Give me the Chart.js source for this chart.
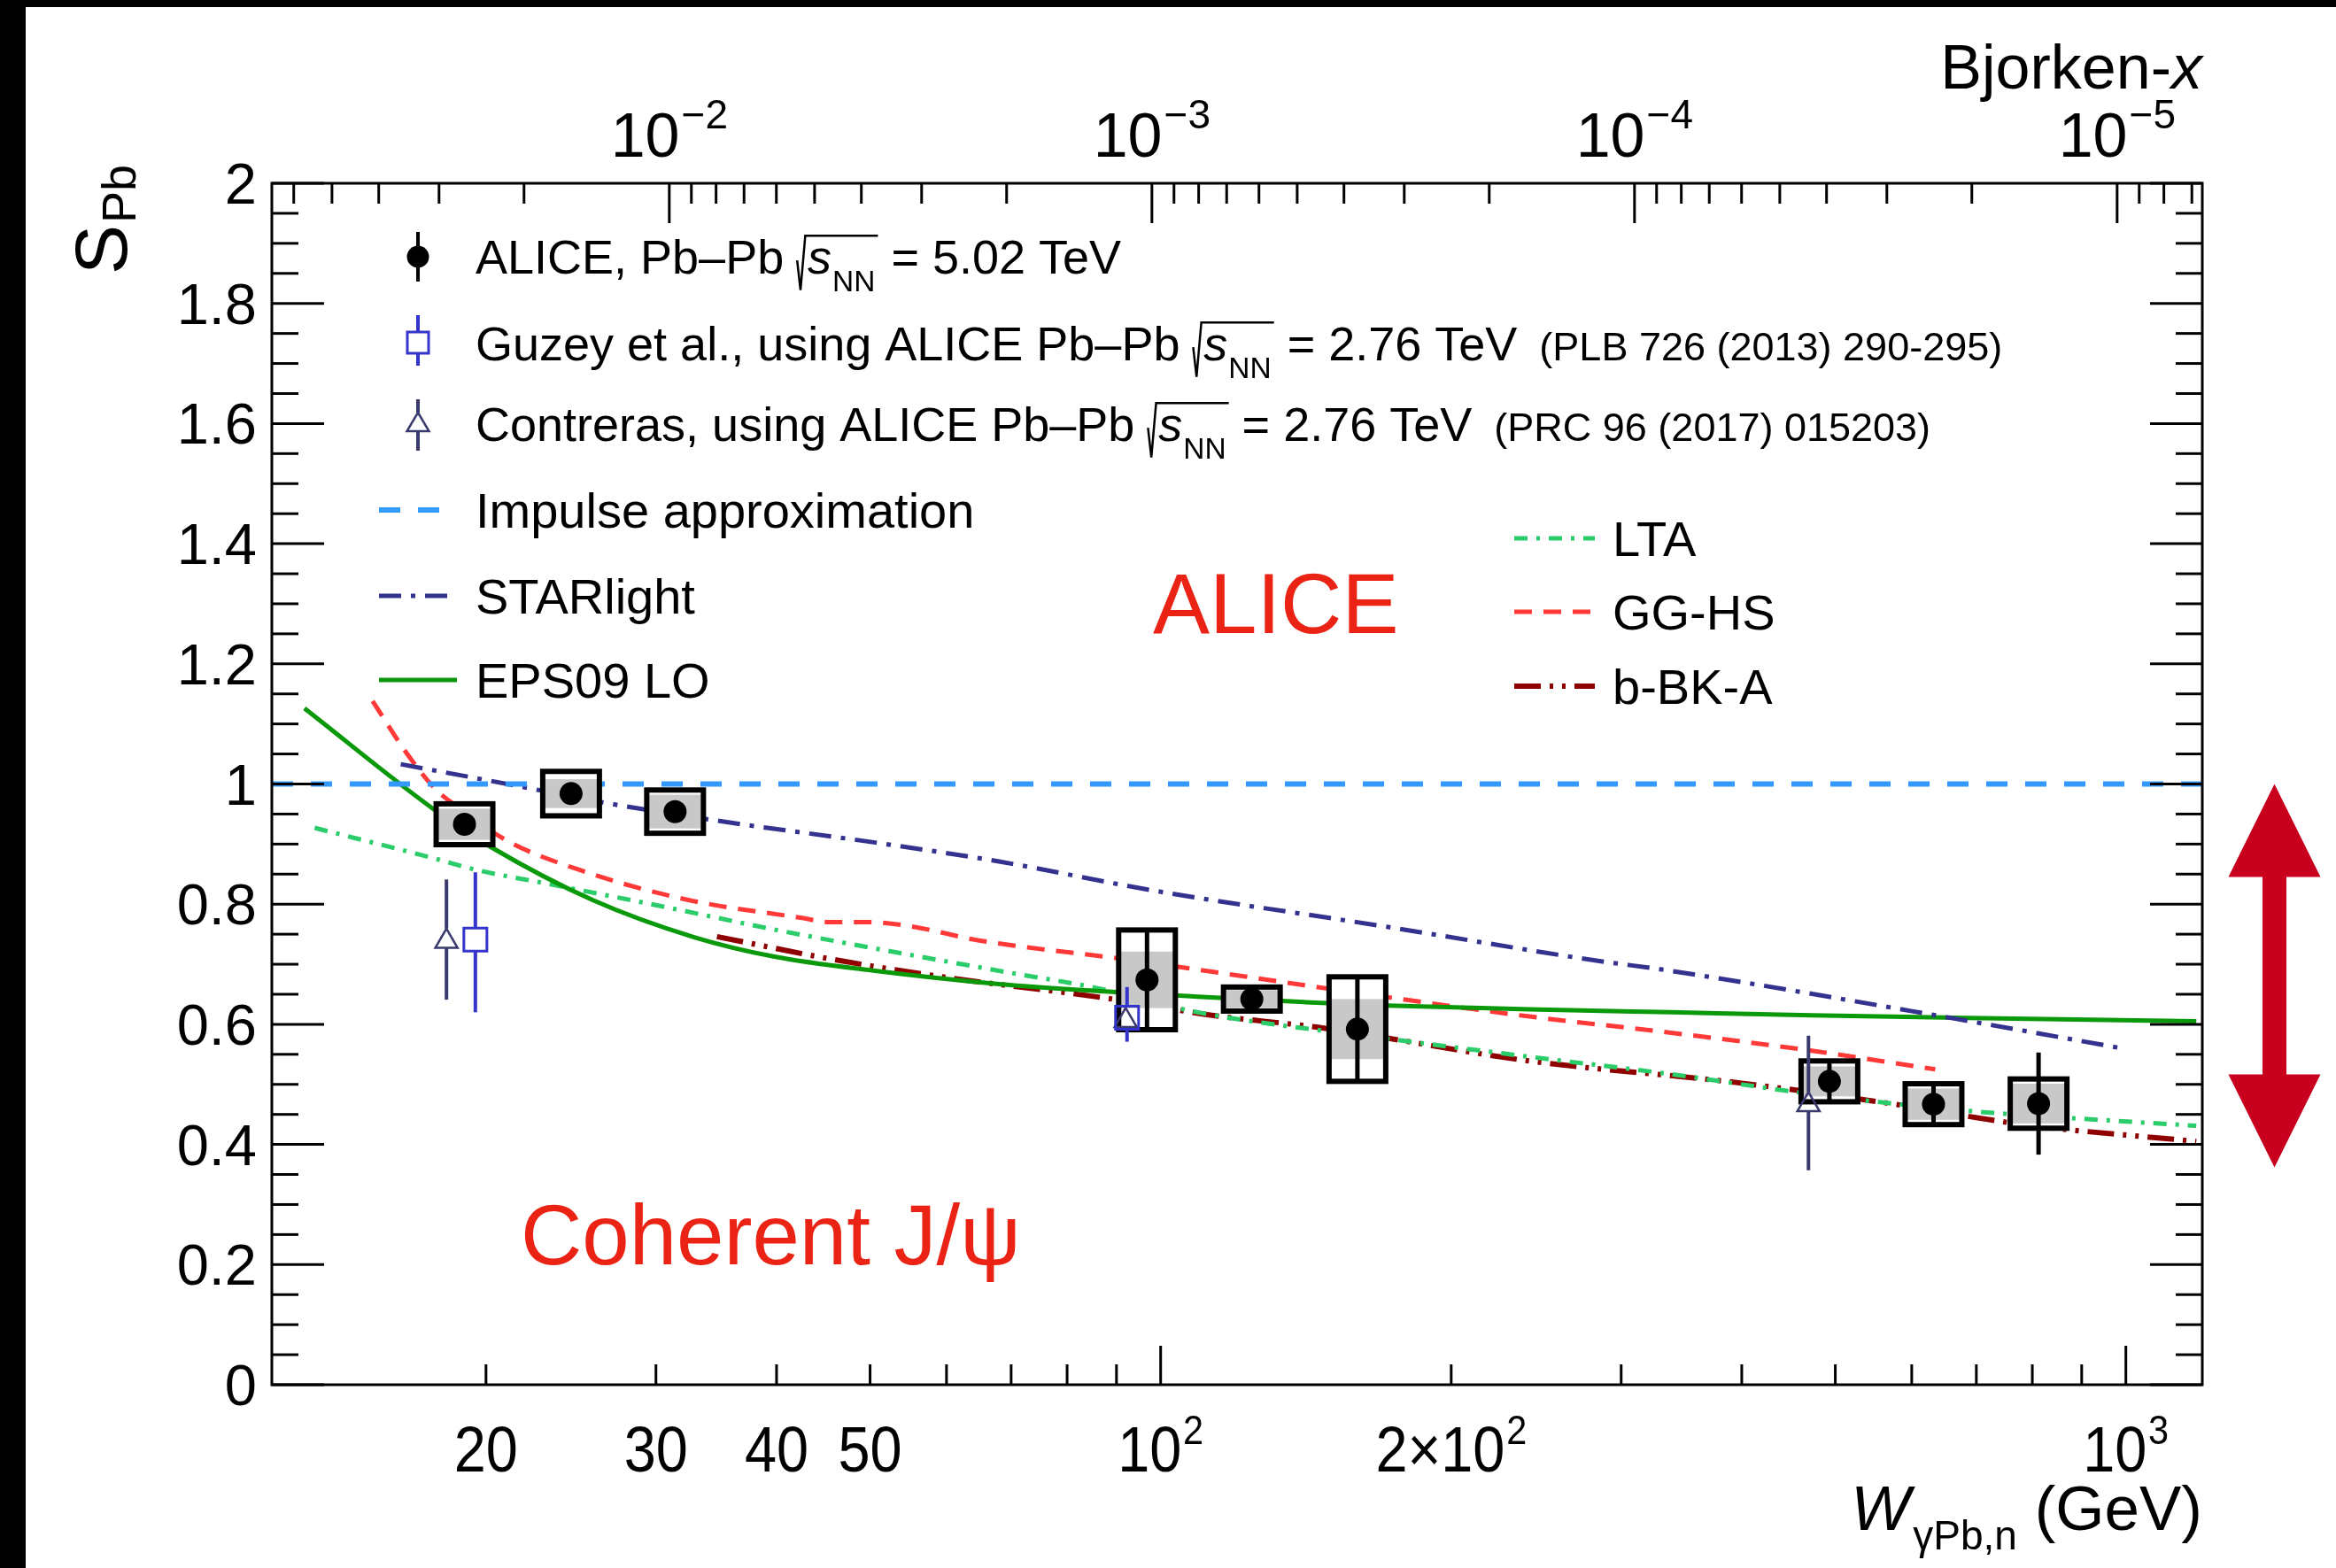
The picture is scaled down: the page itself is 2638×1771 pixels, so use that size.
<!DOCTYPE html>
<html>
<head>
<meta charset="utf-8">
<title>S_Pb vs W</title>
<script src="https://cdn.jsdelivr.net/npm/chart.js@4.4.1/dist/chart.umd.min.js"></script>
<style>
    html, body { margin: 0; padding: 0; background: #000; }
    #wrap { width: 2638px; height: 1771px; }
</style>
</head>
<body>
<div id="wrap"><canvas id="grafico" width="2638" height="1771"></canvas></div>
<script>
// ---- dados ----
// ALICE Pb-Pb 5.02 TeV
const aliceW    = [19.0, 24.5, 31.4, 96.8, 124.3, 159.9, 493, 632, 812];
const aliceS    = [0.933, 0.984, 0.954, 0.674, 0.642, 0.592, 0.505, 0.467, 0.468];
const aliceStat = [0.012, 0.012, 0.012, 0.080, 0.015, 0.087, 0.032, 0.033, 0.085];
const aliceUnc  = [0.034, 0.037, 0.036, 0.083, 0.020, 0.087, 0.034, 0.034, 0.041]; // caixa aberta
const aliceCorr = [0.026, 0.024, 0.028, 0.047, 0.015, 0.050, 0.025, 0.026, 0.033]; // caixa cinza

// Guzey et al. (2.76 TeV)
const guzeyW     = [19.5, 92.3];
const guzeyS     = [0.741, 0.611];
const guzeyErrLo = [0.121, 0.040];
const guzeyErrHi = [0.112, 0.051];

// Contreras (2.76 TeV)
const contrW     = [18.2, 92.0, 469];
const contrS     = [0.738, 0.606, 0.466];
const contrErrLo = [0.097, 0.015, 0.109];
const contrErrHi = [0.103, 0.015, 0.115];

// modelos
const impulseW = [12, 1200];
const impulseS = [1, 1];

const starlightW = [16.32, 21.36, 26.5, 34.7, 51.9, 68, 98, 172, 280, 337.7, 662, 983];
const starlightS = [1.033, 0.998, 0.969, 0.939, 0.900, 0.871, 0.823, 0.762, 0.707, 0.689, 0.610, 0.561];

const eps09W = [12.97, 17.69, 20.24, 25.79, 32.87, 39.7, 50.6, 68.0, 89.1, 109.3, 140.7, 172, 241, 337.7, 472.7, 662, 1183];
const eps09S = [1.126, 0.957, 0.895, 0.807, 0.745, 0.713, 0.689, 0.667, 0.654, 0.646, 0.637, 0.631, 0.625, 0.620, 0.615, 0.611, 0.605];

const ltaW = [13.29, 17.69, 19.44, 23.15, 30.3, 39.7, 51.9, 68.0, 86.7, 109.3, 172, 241, 337.7, 457, 662, 1183];
const ltaS = [0.927, 0.876, 0.858, 0.834, 0.797, 0.758, 0.723, 0.689, 0.659, 0.620, 0.576, 0.546, 0.517, 0.487, 0.458, 0.431];

const gghsW = [15.26, 16.54, 17.69, 18.42, 21.07, 25.1, 32.4, 42.5, 45.4, 49.9, 55.6, 64.1, 72.8, 89.1, 122.9, 172, 241, 337.7, 472.7, 634.6];
const gghsS = [1.138, 1.052, 0.993, 0.969, 0.905, 0.856, 0.807, 0.777, 0.770, 0.770, 0.762, 0.741, 0.728, 0.711, 0.679, 0.645, 0.613, 0.586, 0.556, 0.525];

const bbkaW = [34.7, 45.4, 59.4, 89.1, 113, 145.5, 241, 399.7, 559.8, 783.4, 1183];
const bbkaS = [0.746, 0.709, 0.679, 0.642, 0.615, 0.595, 0.539, 0.502, 0.470, 0.433, 0.405];

// eixos
const yMajorTicks = [0, 0.2, 0.4, 0.6, 0.8, 1, 1.2, 1.4, 1.6, 1.8, 2];
const wMajorTicks = [100, 1000];
const wMinorTicks = [20, 30, 40, 50, 60, 70, 80, 90, 200, 300, 400, 500, 600, 700, 800, 900];
const wTickLabels = [
    { v: 20, base: "20" }, { v: 30, base: "30" }, { v: 40, base: "40" }, { v: 50, base: "50" },
    { v: 100, base: "10", exp: "2" }, { v: 200, base: "2\u00d710", exp: "2" }, { v: 1000, base: "10", exp: "3" }
];
const bjorkenMajor  = [1e-2, 1e-3, 1e-4, 1e-5];
const bjorkenLabels = ["\u22122", "\u22123", "\u22124", "\u22125"];
const arrowRange = [1.0, 0.362]; // seta vermelha, em S_Pb

const M_JPSI = 3.097;
const FAM = '"Liberation Sans", Arial, Helvetica, sans-serif';
const COR = {
    impulse: "#3399ff", starlight: "#33338f", eps09: "#0a990a", lta: "#2bcc6a",
    gghs: "#ff3838", bbka: "#8f0000", guzey: "#3434cc", contr: "#3a3a6e",
    cinza: "#c8c8c8", vermelho: "#ea2314", seta: "#c8001e"
};
const DASH = {
    impulse: [24, 20], starlight: [25, 11, 5, 11], lta: [15, 10, 4, 10],
    gghs: [20, 13], bbka: [30, 10, 4, 10, 4, 10]
};
const BOX_HALF = 32;

function fnt(size, style) { return `${style || ""} ${size}px ${FAM}`.trim(); }
function pts(ws, ss) { return ws.map((w, i) => ({ x: w, y: ss[i] })); }
function linha(ctx, x0, y0, x1, y1) { ctx.beginPath(); ctx.moveTo(x0, y0); ctx.lineTo(x1, y1); ctx.stroke(); }

function barraVertical(ctx, x, yHi, yLo, y, gapUp, gapDown) {
    if (yHi < y - gapUp) linha(ctx, x, yHi, x, y - gapUp);
    if (yLo > y + gapDown) linha(ctx, x, y + gapDown, x, yLo);
}

function desenhaAlice(chart) {
    const ctx = chart.ctx, xs = chart.scales.x, ys = chart.scales.y;
    ctx.save();
    aliceW.forEach((w, i) => {
        const cx = xs.getPixelForValue(w);
        const t = ys.getPixelForValue(aliceS[i] + aliceUnc[i]);
        const b = ys.getPixelForValue(aliceS[i] - aliceUnc[i]);
        const gt = ys.getPixelForValue(aliceS[i] + aliceCorr[i]);
        const gb = ys.getPixelForValue(aliceS[i] - aliceCorr[i]);
        ctx.fillStyle = "#fff";
        ctx.fillRect(cx - BOX_HALF, t, 2 * BOX_HALF, b - t);
        ctx.fillStyle = COR.cinza;
        ctx.fillRect(cx - BOX_HALF, gt, 2 * BOX_HALF, gb - gt);
        ctx.strokeStyle = "#000";
        ctx.lineWidth = 6;
        ctx.strokeRect(cx - BOX_HALF, t, 2 * BOX_HALF, b - t);
        ctx.lineWidth = 5;
        linha(ctx, cx, ys.getPixelForValue(aliceS[i] + aliceStat[i]), cx, ys.getPixelForValue(aliceS[i] - aliceStat[i]));
    });
    ctx.restore();
}

function desenhaErros(chart, ws, ss, lo, hi, cor, gapUp, gapDown) {
    const ctx = chart.ctx, xs = chart.scales.x, ys = chart.scales.y;
    ctx.save();
    ctx.strokeStyle = cor;
    ctx.lineWidth = 4;
    ws.forEach((w, i) => {
        const x = xs.getPixelForValue(w);
        barraVertical(ctx, x, ys.getPixelForValue(ss[i] + hi[i]), ys.getPixelForValue(ss[i] - lo[i]),
            ys.getPixelForValue(ss[i]), gapUp, gapDown);
    });
    ctx.restore();
}

function drawPow(ctx, base, exp, cx, y, size, expSize, rise, sx) {
    ctx.save();
    ctx.translate(cx, y);
    ctx.scale(sx || 1, 1);
    ctx.font = fnt(size);
    const wb = ctx.measureText(base).width;
    let we = 0;
    if (exp) { ctx.font = fnt(expSize); we = ctx.measureText(exp).width + 2; }
    const x0 = -(wb + we) / 2;
    ctx.textAlign = "left";
    ctx.font = fnt(size);
    ctx.fillText(base, x0, 0);
    if (exp) { ctx.font = fnt(expSize); ctx.fillText(exp, x0 + wb + 2, -rise); }
    ctx.restore();
}

function desenhaEixos(chart) {
    const ctx = chart.ctx, xs = chart.scales.x, ys = chart.scales.y, a = chart.chartArea;
    ctx.save();
    ctx.strokeStyle = "#000";
    ctx.fillStyle = "#000";
    ctx.lineWidth = 3;
    ctx.strokeRect(a.left, a.top, a.right - a.left, a.bottom - a.top);

    // y: principais e secundários (0.05)
    for (let k = 0; k <= 40; k++) {
        const y = ys.getPixelForValue(k * 0.05);
        const len = k % 4 === 0 ? 59 : 30;
        linha(ctx, a.left, y, a.left + len, y);
        linha(ctx, a.right, y, a.right - len, y);
    }
    ctx.font = fnt(65);
    ctx.textAlign = "right";
    ctx.textBaseline = "alphabetic";
    yMajorTicks.forEach(v => ctx.fillText(String(v), a.left - 17, ys.getPixelForValue(v) + 23));

    // x de baixo (W)
    wMinorTicks.forEach(w => { const x = xs.getPixelForValue(w); linha(ctx, x, a.bottom, x, a.bottom - 23); });
    wMajorTicks.forEach(w => { const x = xs.getPixelForValue(w); linha(ctx, x, a.bottom, x, a.bottom - 44); });
    wTickLabels.forEach(t => drawPow(ctx, t.base, t.exp, xs.getPixelForValue(t.v), 1662, 72, 46, 31, 0.9));

    // x de cima (Bjorken-x)
    const wMin = xs.min, wMax = xs.max;
    [1e-6, 1e-5, 1e-4, 1e-3, 1e-2].forEach(dec => {
        for (let k = 2; k <= 9; k++) {
            const w = M_JPSI / Math.sqrt(k * dec);
            if (w < wMin || w > wMax) continue;
            const x = xs.getPixelForValue(w);
            linha(ctx, x, a.top, x, a.top + 23);
        }
    });
    bjorkenMajor.forEach((bx, i) => {
        const x = xs.getPixelForValue(M_JPSI / Math.sqrt(bx));
        linha(ctx, x, a.top, x, a.top + 45);
        drawPow(ctx, "10", bjorkenLabels[i], x, 177, 70, 46, 32);
    });

    // títulos
    ctx.textAlign = "left";
    ctx.font = fnt(70, "italic");
    const wx = ctx.measureText("x").width;
    ctx.fillText("x", a.right - wx, 100);
    ctx.font = fnt(70);
    ctx.textAlign = "right";
    ctx.fillText("Bjorken-", a.right - wx, 100);

    ctx.textAlign = "left";
    ctx.font = fnt(71);
    const wGeV = ctx.measureText(" (GeV)").width;
    ctx.font = fnt(46);
    const wSub = ctx.measureText("\u03b3Pb,n").width;
    ctx.font = fnt(71, "italic");
    const wW = ctx.measureText("W").width;
    let x0 = a.right - (wW + 3 + wSub + wGeV);
    ctx.fillText("W", x0, 1728);
    ctx.font = fnt(46);
    ctx.fillText("\u03b3Pb,n", x0 + wW + 3, 1750);
    ctx.font = fnt(71);
    ctx.fillText(" (GeV)", x0 + wW + 3 + wSub, 1728);

    ctx.save();
    ctx.translate(143, 310);
    ctx.rotate(-Math.PI / 2);
    ctx.font = fnt(84);
    ctx.textAlign = "left";
    ctx.fillText("S", 0, 0);
    const wS = ctx.measureText("S").width;
    ctx.font = fnt(54);
    ctx.fillText("Pb", wS + 2, 10);
    ctx.restore();
    ctx.restore();
}

function raizS(ctx, x, base, s) {
    const xs = x + 0.22 * s;
    ctx.font = fnt(s, "italic");
    const wS = ctx.measureText("s").width;
    ctx.fillText("s", xs, base);
    ctx.font = fnt(0.62 * s);
    const wN = ctx.measureText("NN").width;
    ctx.fillText("NN", xs + wS + 1, base + 0.36 * s);
    const fim = xs + wS + wN + 4;
    ctx.lineWidth = 2.5;
    ctx.beginPath();
    ctx.moveTo(x, base - 0.28 * s);
    ctx.lineTo(x + 0.07 * s, base + 0.34 * s);
    ctx.lineTo(x + 0.17 * s, base - 0.8 * s);
    ctx.lineTo(fim, base - 0.8 * s);
    ctx.stroke();
    return fim;
}

function texto(ctx, s, x, y, size, style) {
    ctx.font = fnt(size, style);
    ctx.fillText(s, x, y);
    return x + ctx.measureText(s).width;
}

function amostra(ctx, x0, x1, y, cor, dash, lw) {
    ctx.save();
    ctx.strokeStyle = cor;
    ctx.lineWidth = lw;
    ctx.setLineDash(dash || []);
    linha(ctx, x0, y, x1, y);
    ctx.restore();
}

function desenhaLegenda(chart) {
    const ctx = chart.ctx;
    ctx.save();
    ctx.fillStyle = "#000";
    ctx.strokeStyle = "#000";
    ctx.textAlign = "left";
    const mx = 472, tx = 537, s1 = 54, s2 = 56;

    // ALICE
    ctx.lineWidth = 4;
    linha(ctx, mx, 262, mx, 318);
    ctx.beginPath(); ctx.arc(mx, 290, 12.5, 0, 2 * Math.PI); ctx.fill();
    let b = 290 + 0.358 * s1;
    let x = texto(ctx, "ALICE, Pb\u2013Pb ", tx, b, s1);
    x = raizS(ctx, x, b, s1);
    texto(ctx, " = 5.02 TeV", x, b, s1);

    // Guzey
    ctx.strokeStyle = COR.guzey;
    ctx.lineWidth = 4;
    barraVertical(ctx, mx, 356, 413, 387, 12, 12);
    ctx.lineWidth = 3;
    ctx.strokeRect(mx - 12, 375, 24, 24);
    ctx.strokeStyle = "#000";
    b = 388 + 0.358 * s1;
    x = texto(ctx, "Guzey et al., using ALICE Pb\u2013Pb ", tx, b, s1);
    x = raizS(ctx, x, b, s1);
    x = texto(ctx, " = 2.76 TeV", x, b, s1);
    texto(ctx, "  (PLB 726 (2013) 290-295)", x, b, 45);

    // Contreras
    ctx.strokeStyle = COR.contr;
    ctx.lineWidth = 4;
    barraVertical(ctx, mx, 451, 509, 480, 14, 7);
    ctx.lineWidth = 2.5;
    ctx.beginPath();
    ctx.moveTo(mx, 466); ctx.lineTo(mx + 12.5, 487); ctx.lineTo(mx - 12.5, 487); ctx.closePath(); ctx.stroke();
    ctx.strokeStyle = "#000";
    b = 479 + 0.358 * s1;
    x = texto(ctx, "Contreras, using ALICE Pb\u2013Pb ", tx, b, s1);
    x = raizS(ctx, x, b, s1);
    x = texto(ctx, " = 2.76 TeV", x, b, s1);
    texto(ctx, "  (PRC 96 (2017) 015203)", x, b, 45);

    // modelos, coluna esquerda
    amostra(ctx, 428, 516, 576, COR.impulse, DASH.impulse, 6);
    texto(ctx, "Impulse approximation", tx, 576 + 0.358 * s2, s2);
    amostra(ctx, 428, 516, 673, COR.starlight, DASH.starlight, 5);
    texto(ctx, "STARlight", tx, 673 + 0.358 * s2, s2);
    amostra(ctx, 428, 516, 768, COR.eps09, [], 5);
    texto(ctx, "EPS09 LO", tx, 768 + 0.358 * s2, s2);

    // coluna direita
    amostra(ctx, 1710, 1801, 608, COR.lta, DASH.lta, 5);
    texto(ctx, "LTA", 1821, 608 + 0.358 * s2, s2);
    amostra(ctx, 1710, 1801, 691, COR.gghs, DASH.gghs, 5);
    texto(ctx, "GG-HS", 1821, 691 + 0.358 * s2, s2);
    amostra(ctx, 1710, 1801, 775, COR.bbka, DASH.bbka, 6);
    texto(ctx, "b-BK-A", 1821, 775 + 0.358 * s2, s2);
    ctx.restore();
}

function desenhaAnotacoes(chart) {
    const ctx = chart.ctx, ys = chart.scales.y;
    ctx.save();
    ctx.fillStyle = COR.vermelho;
    ctx.textAlign = "left";
    ctx.font = fnt(96);
    ctx.fillText("ALICE", 1302, 715);
    ctx.fillText("Coherent J/\u03c8", 588, 1428);

    // seta dupla fora do quadro
    const cx = 2568.5, yT = ys.getPixelForValue(arrowRange[0]), yB = ys.getPixelForValue(arrowRange[1]);
    const hw = 52, hl = 105, sw = 13.5;
    ctx.fillStyle = COR.seta;
    ctx.beginPath();
    ctx.moveTo(cx, yT);
    ctx.lineTo(cx + hw, yT + hl);
    ctx.lineTo(cx + sw, yT + hl);
    ctx.lineTo(cx + sw, yB - hl);
    ctx.lineTo(cx + hw, yB - hl);
    ctx.lineTo(cx, yB);
    ctx.lineTo(cx - hw, yB - hl);
    ctx.lineTo(cx - sw, yB - hl);
    ctx.lineTo(cx - sw, yT + hl);
    ctx.lineTo(cx - hw, yT + hl);
    ctx.closePath();
    ctx.fill();
    ctx.restore();
}

const estiloRoot = {
    id: "estiloRoot",
    beforeDraw(chart) {
        const ctx = chart.ctx;
        ctx.save();
        ctx.fillStyle = "#000";
        ctx.fillRect(0, 0, chart.width, chart.height);
        ctx.fillStyle = "#fff";
        ctx.fillRect(29, 8, chart.width - 29, chart.height - 8);
        ctx.restore();
    },
    beforeDatasetDraw(chart, args) {
        const label = chart.data.datasets[args.index].label;
        if (label === "ALICE") desenhaAlice(chart);
        if (label === "Guzey") desenhaErros(chart, guzeyW, guzeyS, guzeyErrLo, guzeyErrHi, COR.guzey, 13, 13);
        if (label === "Contreras") desenhaErros(chart, contrW, contrS, contrErrLo, contrErrHi, COR.contr, 14.5, 7.3);
    },
    afterDraw(chart) {
        desenhaEixos(chart);
        desenhaLegenda(chart);
        desenhaAnotacoes(chart);
    }
};

function curvaDs(label, ws, ss, cor, dash, lw, order) {
    return {
        label, data: pts(ws, ss), borderColor: cor, borderWidth: lw, borderDash: dash,
        pointRadius: 0, fill: false, cubicInterpolationMode: "monotone", order
    };
}

const ctx = document.getElementById("grafico").getContext("2d");
new Chart(ctx, {
    type: "line",
    data: {
        datasets: [
            {
                label: "Guzey", data: pts(guzeyW, guzeyS), showLine: false, pointStyle: "rect",
                pointRadius: 18.4, pointBorderWidth: 3, pointBorderColor: COR.guzey,
                pointBackgroundColor: "rgba(0,0,0,0)", order: 1
            },
            {
                label: "Contreras", data: pts(contrW, contrS), showLine: false, pointStyle: "triangle",
                pointRadius: 14.5, pointBorderWidth: 2.5, pointBorderColor: COR.contr,
                pointBackgroundColor: "rgba(0,0,0,0)", order: 2
            },
            {
                label: "ALICE", data: pts(aliceW, aliceS), showLine: false, pointStyle: "circle",
                pointRadius: 13, pointBorderWidth: 0, pointBackgroundColor: "#000", order: 3
            },
            curvaDs("Impulse approximation", impulseW, impulseS, COR.impulse, DASH.impulse, 6, 4),
            curvaDs("STARlight", starlightW, starlightS, COR.starlight, DASH.starlight, 5, 5),
            curvaDs("EPS09 LO", eps09W, eps09S, COR.eps09, [], 5, 6),
            curvaDs("GG-HS", gghsW, gghsS, COR.gghs, DASH.gghs, 5, 7),
            curvaDs("LTA", ltaW, ltaS, COR.lta, DASH.lta, 5, 8),
            curvaDs("b-BK-A", bbkaW, bbkaS, COR.bbka, DASH.bbka, 6, 9)
        ]
    },
    options: {
        responsive: false,
        devicePixelRatio: 1,
        animation: false,
        events: [],
        layout: { padding: { left: 307, top: 207, right: 151, bottom: 207 } },
        plugins: { legend: { display: false }, tooltip: { enabled: false } },
        scales: {
            x: { type: "logarithmic", min: 12, max: 1200, display: false },
            y: { type: "linear", min: 0, max: 2, display: false }
        }
    },
    plugins: [estiloRoot]
});
</script>
</body>
</html>
